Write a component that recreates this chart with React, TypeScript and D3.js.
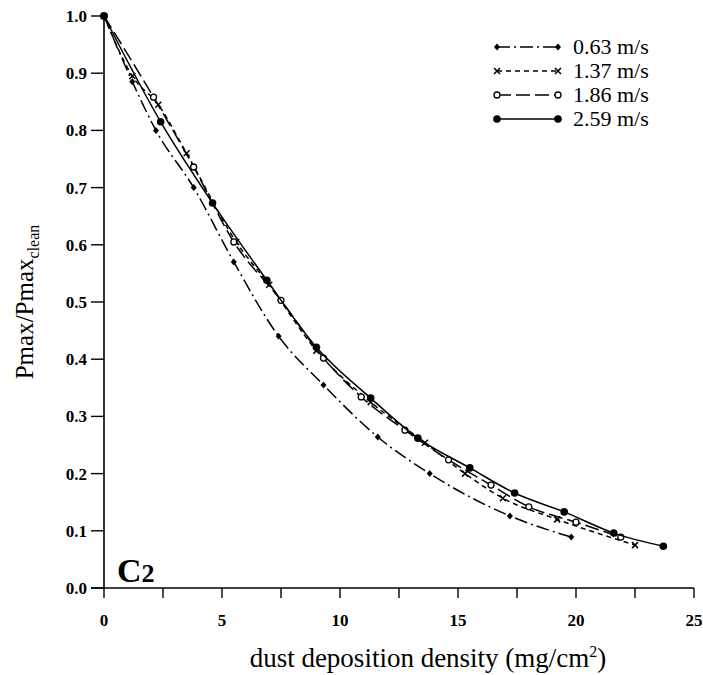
import React from "react";
import * as d3 from "d3";

// series: dust density (mg/cm2) -> Pmax/Pmax_clean
const x063 = [0, 1.2, 2.2, 3.8, 5.5, 7.4, 9.3, 11.6, 13.8, 17.2, 19.8];
const y063 = [1.0, 0.885, 0.8, 0.7, 0.57, 0.44, 0.355, 0.264, 0.2, 0.126, 0.089];

const x137 = [0, 1.2, 2.3, 3.5, 5.6, 7.0, 9.0, 11.3, 13.6, 15.3, 16.9, 19.2, 22.5];
const y137 = [1.0, 0.895, 0.845, 0.76, 0.605, 0.53, 0.415, 0.325, 0.254, 0.2, 0.157, 0.12, 0.075];

const x186 = [0, 2.1, 3.8, 5.5, 7.5, 9.3, 10.9, 12.75, 14.6, 16.4, 18.0, 20.0, 21.9];
const y186 = [1.0, 0.858, 0.736, 0.605, 0.503, 0.402, 0.334, 0.276, 0.224, 0.18, 0.142, 0.115, 0.089];

const x259 = [0, 2.4, 4.6, 6.9, 9.0, 11.3, 13.3, 15.5, 17.4, 19.5, 21.6, 23.7];
const y259 = [1.0, 0.815, 0.673, 0.538, 0.421, 0.332, 0.262, 0.21, 0.166, 0.133, 0.096, 0.073];

const seriesNames = ["0.63 m/s", "1.37 m/s", "1.86 m/s", "2.59 m/s"];
const xTicks = [0, 5, 10, 15, 20, 25];
const yTicks = [0, 0.1, 0.2, 0.3, 0.4, 0.5, 0.6, 0.7, 0.8, 0.9, 1.0];

const W = 703;
const H = 675;
const left = 104;
const right = 694;
const top = 16;
const bottom = 588;
const font = "'Liberation Serif', 'Times New Roman', serif";

const series = [
  { name: seriesNames[0], xs: x063, ys: y063, dash: "13,4,2,4", marker: "diamond" },
  { name: seriesNames[1], xs: x137, ys: y137, dash: "5,4", marker: "cross" },
  { name: seriesNames[2], xs: x186, ys: y186, dash: "14,5", marker: "open" },
  { name: seriesNames[3], xs: x259, ys: y259, dash: "none", marker: "dot" },
];

function Marker({ kind, x, y }: { kind: string; x: number; y: number }) {
  if (kind === "diamond")
    return <path d={`M${x},${y - 3.5}L${x + 3},${y}L${x},${y + 3.5}L${x - 3},${y}Z`} fill="#000" />;
  if (kind === "cross")
    return (
      <path
        d={`M${x - 3},${y - 3}L${x + 3},${y + 3}M${x - 3},${y + 3}L${x + 3},${y - 3}`}
        stroke="#000"
        strokeWidth={1.5}
      />
    );
  if (kind === "open") return <circle cx={x} cy={y} r={3} fill="#fff" stroke="#000" strokeWidth={1.3} />;
  return <circle cx={x} cy={y} r={3.8} fill="#000" />;
}

export default function App() {
  const xScale = d3.scaleLinear().domain([0, 25]).range([left, right]);
  const yScale = d3.scaleLinear().domain([0, 1]).range([bottom, top]);
  const line = d3
    .line<[number, number]>()
    .x((d) => xScale(d[0]))
    .y((d) => yScale(d[1]))
    .curve(d3.curveMonotoneX);

  const minorX = d3.range(0, 25.01, 2.5);

  return (
    <div style={{ position: "absolute", left: 0, top: 0 }}>
      <svg width={W} height={H} style={{ display: "block", background: "#fff" }}>
        {/* axes */}
        <line x1={left} y1={top} x2={left} y2={bottom} stroke="#000" strokeWidth={1.6} />
        <line x1={left - 13} y1={bottom} x2={right} y2={bottom} stroke="#000" strokeWidth={1.6} />
        {yTicks.map((t) => (
          <g key={t}>
            <line x1={left - 13} x2={left} y1={yScale(t)} y2={yScale(t)} stroke="#000" strokeWidth={1.4} />
            <text
              x={left - 17}
              y={yScale(t) + 6}
              textAnchor="end"
              fontFamily={font}
              fontWeight="bold"
              fontSize={17}
            >
              {t.toFixed(1)}
            </text>
          </g>
        ))}
        {minorX.map((t) => (
          <line key={t} x1={xScale(t)} x2={xScale(t)} y1={bottom} y2={bottom + 10} stroke="#000" strokeWidth={1.4} />
        ))}
        {xTicks.map((t) => (
          <text
            key={t}
            x={xScale(t)}
            y={bottom + 38}
            textAnchor="middle"
            fontFamily={font}
            fontWeight="bold"
            fontSize={17}
          >
            {t}
          </text>
        ))}
        <text x={428} y={667} textAnchor="middle" fontFamily={font} fontSize={27}>
          dust deposition density (mg/cm<tspan dy={-10} fontSize={16}>2</tspan>
          <tspan dy={10}>)</tspan>
        </text>
        <text
          transform={`translate(33,${(top + bottom) / 2}) rotate(-90)`}
          textAnchor="middle"
          fontFamily={font}
          fontSize={25}
        >
          Pmax/Pmax<tspan dy={6} fontSize={16}>clean</tspan>
        </text>
        <text x={117} y={582} fontFamily={font} fontWeight="bold" fontSize={34}>
          C<tspan fontSize={26}>2</tspan>
        </text>

        {/* curves */}
        {series.map((s) => {
          const pts = s.xs.map((x, i) => [x, s.ys[i]] as [number, number]);
          return (
            <g key={s.name}>
              <path d={line(pts) || ""} fill="none" stroke="#000" strokeWidth={1.5} strokeDasharray={s.dash} />
              {pts.map((p, i) => (
                <Marker key={i} kind={s.marker} x={xScale(p[0])} y={yScale(p[1])} />
              ))}
            </g>
          );
        })}

        {/* legend */}
        {series.map((s, i) => {
          const ly = 47 + i * 24;
          return (
            <g key={s.name}>
              <line x1={497} x2={558} y1={ly} y2={ly} stroke="#000" strokeWidth={1.5} strokeDasharray={s.dash} />
              <Marker kind={s.marker} x={497} y={ly} />
              <Marker kind={s.marker} x={558} y={ly} />
              <text x={573} y={ly + 7} fontFamily={font} fontSize={22}>
                {s.name}
              </text>
            </g>
          );
        })}
      </svg>
    </div>
  );
}
